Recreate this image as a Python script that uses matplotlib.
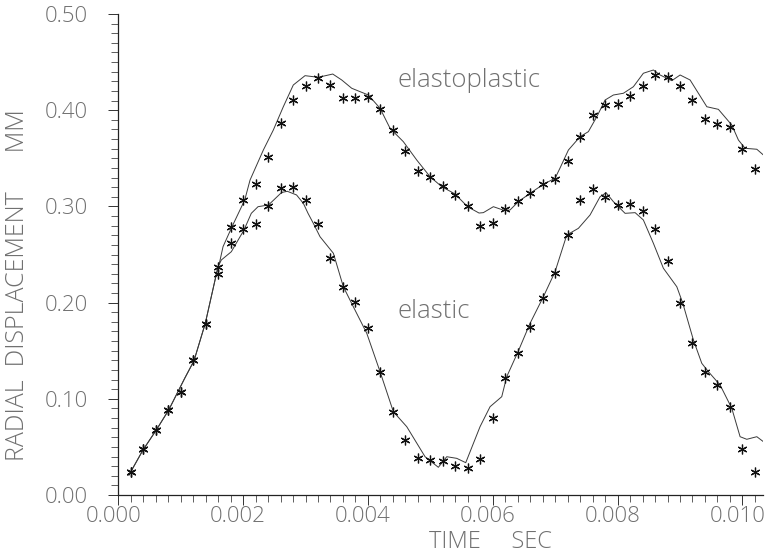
import matplotlib
matplotlib.use("Agg")
import matplotlib.pyplot as plt
from matplotlib.ticker import MultipleLocator, FormatStrFormatter
from matplotlib.transforms import ScaledTranslation

# measured (star) time points, s
t_meas = [0.0002, 0.0004, 0.0006, 0.0008, 0.0010, 0.0012, 0.0014, 0.0016, 0.0018, 0.0020,
          0.0022, 0.0024, 0.0026, 0.0028, 0.0030, 0.0032, 0.0034, 0.0036, 0.0038, 0.0040,
          0.0042, 0.0044, 0.0046, 0.0048, 0.0050, 0.0052, 0.0054, 0.0056, 0.0058, 0.0060,
          0.0062, 0.0064, 0.0066, 0.0068, 0.0070, 0.0072, 0.0074, 0.0076, 0.0078, 0.0080,
          0.0082, 0.0084, 0.0086, 0.0088, 0.0090, 0.0092, 0.0094, 0.0096, 0.0098, 0.0100,
          0.0102]

plastic_meas = [0.024, 0.0475, 0.068, 0.088, 0.107, 0.140, 0.178, 0.237, 0.279, 0.307,
                0.323, 0.351, 0.387, 0.411, 0.425, 0.433, 0.426, 0.413, 0.413, 0.414,
                0.401, 0.379, 0.358, 0.337, 0.331, 0.321, 0.312, 0.300, 0.280, 0.283,
                0.297, 0.306, 0.314, 0.323, 0.329, 0.347, 0.372, 0.395, 0.405, 0.406,
                0.415, 0.425, 0.437, 0.434, 0.425, 0.411, 0.391, 0.386, 0.383, 0.360,
                0.339]

elastic_meas = [0.024, 0.0475, 0.068, 0.088, 0.107, 0.140, 0.178, 0.230, 0.262, 0.277,
                0.282, 0.300, 0.319, 0.320, 0.307, 0.282, 0.246, 0.216, 0.201, 0.174,
                0.128, 0.086, 0.057, 0.038, 0.036, 0.035, 0.030, 0.028, 0.037, 0.080,
                0.122, 0.148, 0.175, 0.205, 0.231, 0.270, 0.307, 0.318, 0.310, 0.301,
                0.302, 0.295, 0.277, 0.243, 0.200, 0.158, 0.128, 0.114, 0.091, 0.048,
                0.024]

# computed curves
t_plastic = [0.000171, 0.000396, 0.000609, 0.000808, 0.001064, 0.001213, 0.001394, 0.001598,
             0.001625, 0.001678, 0.001822, 0.002026, 0.002111, 0.002324, 0.002484, 0.002644,
             0.002804, 0.002992, 0.003205, 0.003436, 0.00358, 0.00374, 0.004006, 0.004194,
             0.004354, 0.004567, 0.004782, 0.004995, 0.005183, 0.005396, 0.005596, 0.00578,
             0.005849, 0.00601, 0.006197, 0.006277, 0.00641, 0.006598, 0.006811, 0.006998,
             0.007078, 0.007212, 0.007399, 0.007532, 0.007667, 0.0078, 0.007933, 0.008093,
             0.008253, 0.008413, 0.008574, 0.008681, 0.008869, 0.009002, 0.009162, 0.009295,
             0.00943, 0.009615, 0.00983, 0.009936, 0.010043, 0.010231, 0.010337]
u_plastic = [0.0208, 0.0468, 0.0676, 0.0884, 0.1213, 0.1396, 0.1785, 0.2373,
             0.2425, 0.2581, 0.2789, 0.3067, 0.3274, 0.3586, 0.3794, 0.4036,
             0.4262, 0.4359, 0.4342, 0.4376, 0.4314, 0.4228, 0.4158, 0.402,
             0.3812, 0.3673, 0.3482, 0.3309, 0.3205, 0.3129, 0.2997, 0.2931,
             0.2935, 0.2997, 0.2955, 0.2963, 0.3049, 0.3136, 0.323, 0.3292,
             0.3399, 0.3586, 0.3725, 0.3777, 0.3932, 0.4106, 0.4158, 0.4176,
             0.4244, 0.4384, 0.4418, 0.4366, 0.4307, 0.4366, 0.4314, 0.4176,
             0.4036, 0.4009, 0.3846, 0.369, 0.3604, 0.3594, 0.3534]

t_elastic = [0.000171, 0.000396, 0.000609, 0.000808, 0.001064, 0.001213, 0.001394, 0.001598,
             0.001651, 0.001811, 0.002014, 0.002131, 0.002239, 0.002407, 0.002615, 0.002708,
             0.002856, 0.002965, 0.00304, 0.003125, 0.003232, 0.003446, 0.003606, 0.003766,
             0.003981, 0.004194, 0.004407, 0.004622, 0.004915, 0.005128, 0.005263, 0.005423,
             0.005567, 0.005796, 0.005957, 0.006144, 0.006224, 0.00641, 0.006598, 0.006811,
             0.006998, 0.007186, 0.007372, 0.007559, 0.00772, 0.007816, 0.007933, 0.00812,
             0.008281, 0.008413, 0.008574, 0.008734, 0.008949, 0.009045, 0.009215, 0.009349,
             0.009455, 0.009643, 0.00983, 0.009963, 0.01007, 0.010231, 0.010337]
u_elastic = [0.0208, 0.0468, 0.0676, 0.0884, 0.1213, 0.1396, 0.1785, 0.2373,
             0.2443, 0.2529, 0.2755, 0.2928, 0.2997, 0.3015, 0.3144, 0.3157,
             0.3119, 0.3032, 0.2928, 0.2824, 0.2685, 0.2513, 0.2165, 0.1957,
             0.1681, 0.1282, 0.0866, 0.071, 0.0398, 0.0288, 0.0398, 0.0381,
             0.0336, 0.071, 0.0918, 0.1022, 0.123, 0.1497, 0.1785, 0.2061,
             0.2321, 0.2703, 0.2772, 0.2911, 0.3101, 0.3142, 0.3049, 0.2928,
             0.2935, 0.2859, 0.2616, 0.2357, 0.2165, 0.1993, 0.1611, 0.1369,
             0.1282, 0.1143, 0.0901, 0.0606, 0.0579, 0.0606, 0.0554]

labels = ["elastoplastic", "elastic"]
label_pos = [(0.00447, 0.431), (0.00448, 0.191)]

W, H = 769, 554
fig = plt.figure(figsize=(W / 100, H / 100), dpi=100)
ax = fig.add_axes([118.3 / W, 1 - 495 / H, (763 - 118.3) / W, 481 / H])

FONT = ["Open Sans", "DejaVu Sans"]
TXT = "#707070"
LINE = "#3a3a3a"

ax.plot(t_plastic, u_plastic, color=LINE, lw=0.7)
ax.plot(t_elastic, u_elastic, color=LINE, lw=0.7)
star = (6, 2, 0)
ax.plot(t_meas, plastic_meas, ls="none", marker=star, ms=7, mew=0.9, color="#111111")
ax.plot(t_meas, elastic_meas, ls="none", marker=star, ms=7, mew=0.9, color="#111111")

for txt, (x, y) in zip(labels, label_pos):
    ax.text(x, y, txt, ha="left", va="center", fontsize=18.5, color=TXT,
            family=FONT, fontweight="light")

ax.set_xlim(0, 0.01033)
ax.set_ylim(0, 0.5)
for s in ("top", "right"):
    ax.spines[s].set_visible(False)
for s in ("left", "bottom"):
    ax.spines[s].set_linewidth(0.9)
    ax.spines[s].set_color("#222222")

ax.xaxis.set_major_locator(MultipleLocator(0.002))
ax.xaxis.set_minor_locator(MultipleLocator(0.0002))
ax.yaxis.set_major_locator(MultipleLocator(0.1))
ax.yaxis.set_minor_locator(MultipleLocator(0.01))
ax.xaxis.set_major_formatter(FormatStrFormatter("%.3f"))
ax.yaxis.set_major_formatter(FormatStrFormatter("%.2f"))

ax.tick_params(axis="both", which="major", direction="out", length=7, width=0.7,
               color="#333333", labelsize=16, labelcolor=TXT)
ax.tick_params(axis="both", which="minor", direction="out", length=5, width=0.6,
               color="#444444")
ax.tick_params(axis="y", which="major", pad=15)
ax.tick_params(axis="x", which="major", pad=1)
for lab in ax.get_xticklabels() + ax.get_yticklabels():
    lab.set_family(FONT)
    lab.set_fontweight("light")
for lab in ax.get_xticklabels():
    lab.set_transform(lab.get_transform() + ScaledTranslation(-5 / 100, 0, fig.dpi_scale_trans))

fig.text(18 / W, 1 - 285 / H, "RADIAL  DISPLACEMENT      MM", rotation=90, ha="center",
         va="center", fontsize=18, color=TXT, family=FONT, fontweight="light")
fig.text(490 / W, 1 - 542 / H, "TIME     SEC", ha="center", va="center", fontsize=17,
         color=TXT, family=FONT, fontweight="light")

fig.savefig("out.png", dpi=100)
